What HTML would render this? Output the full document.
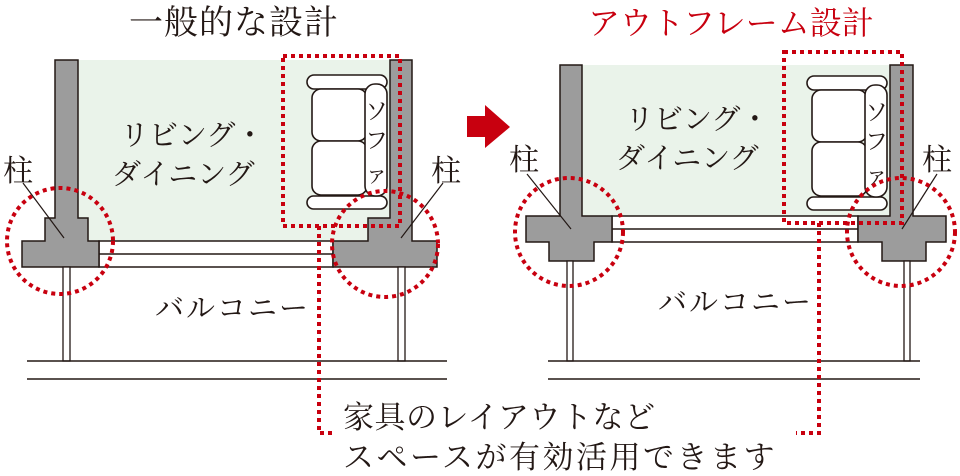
<!DOCTYPE html>
<html><head><meta charset="utf-8"><style>
html,body{margin:0;padding:0;background:#fff;}
svg{display:block;}
text{font-family:"Liberation Serif","Noto Serif CJK SC",serif;fill:#231815;}
</style></head><body>
<svg width="960" height="476" viewBox="0 0 960 476" xmlns="http://www.w3.org/2000/svg">
<defs>
<g id="sofa">
  <rect x="0" y="0" width="80" height="14" rx="7" fill="#fff" stroke="#231815" stroke-width="1.6"/>
  <rect x="0" y="121" width="80" height="13" rx="6.5" fill="#fff" stroke="#231815" stroke-width="1.6"/>
  <rect x="5" y="14" width="55" height="52" rx="9" fill="#fff" stroke="#231815" stroke-width="1.6"/>
  <rect x="5" y="66" width="55" height="54" rx="9" fill="#fff" stroke="#231815" stroke-width="1.6"/>
  <rect x="58" y="9" width="22" height="112" rx="10" fill="#fff" stroke="#231815" stroke-width="1.6"/>
</g>
</defs>

<!-- titles -->
<text x="129" y="34" font-size="34" letter-spacing="1">一般的な設計</text>
<text x="588" y="34" font-size="32" style="fill:#c8000f">アウトフレーム設計</text>

<!-- ===== LEFT DIAGRAM ===== -->
<rect x="78" y="60" width="312" height="181" fill="#eaf3ea"/>
<rect x="99" y="241" width="234" height="26" fill="#fff" stroke="#231815" stroke-width="1.5"/>
<line x1="99" y1="254" x2="333" y2="254" stroke="#231815" stroke-width="1.5"/>
<polygon points="55,60 78,60 78,218 88,218 88,241 99,241 99,267 22,267 22,241 45,241 45,218 55,218" fill="#9c9c9c" stroke="#231815" stroke-width="1.5"/>
<polygon points="390,60 412,60 412,241 437,241 437,267 333,267 333,241 368,241 368,218 390,218" fill="#9c9c9c" stroke="#231815" stroke-width="1.5"/>
<rect x="63" y="267" width="7" height="94" fill="#fff" stroke="#231815" stroke-width="1.3"/>
<rect x="398" y="267" width="7" height="94" fill="#fff" stroke="#231815" stroke-width="1.3"/>
<line x1="27" y1="361" x2="447" y2="361" stroke="#231815" stroke-width="1.5"/>
<line x1="27" y1="379" x2="447" y2="379" stroke="#231815" stroke-width="1.5"/>
<use href="#sofa" x="307" y="75"/>
<text x="120" y="145" font-size="29">リビング・</text>
<text x="112" y="184" font-size="29">ダイニング</text>
<text x="155" y="318" font-size="29" letter-spacing="2">バルコニー</text>
<text font-size="23" x="365" y="119">ソ</text>
<text font-size="23" x="365" y="148">フ</text>
<text font-size="23" x="365" y="182">ァ</text>
<text x="3" y="181" font-size="30">柱</text>
<text x="431" y="181" font-size="30">柱</text>
<line x1="23" y1="183" x2="64" y2="238" stroke="#231815" stroke-width="1.2"/>
<line x1="443" y1="183" x2="401" y2="238" stroke="#231815" stroke-width="1.2"/>
<g fill="none" stroke="#c8000f" stroke-width="4" stroke-dasharray="4 4">
  <rect x="283" y="56" width="117" height="170"/>
  <circle cx="60" cy="241" r="53"/>
  <circle cx="385" cy="244" r="53"/>
  <polyline points="319,226 319,433 336,433"/>
</g>

<polygon points="467,116 485,116 485,105 510,127 485,148 485,137 467,137" fill="#c8000f"/>

<!-- ===== RIGHT DIAGRAM ===== -->
<rect x="582" y="65" width="308" height="151" fill="#eaf3ea"/>
<rect x="612" y="216" width="246" height="26" fill="#fff" stroke="#231815" stroke-width="1.5"/>
<line x1="612" y1="229" x2="858" y2="229" stroke="#231815" stroke-width="1.5"/>
<polygon points="560,65 582,65 582,216 612,216 612,242 594,242 594,261 549,261 549,242 526,242 526,216 560,216" fill="#9c9c9c" stroke="#231815" stroke-width="1.5"/>
<polygon points="890,65 913,65 913,216 946,216 946,242 926,242 926,261 882,261 882,242 858,242 858,216 890,216" fill="#9c9c9c" stroke="#231815" stroke-width="1.5"/>
<rect x="567" y="261" width="6" height="100" fill="#fff" stroke="#231815" stroke-width="1.3"/>
<rect x="904" y="261" width="6" height="100" fill="#fff" stroke="#231815" stroke-width="1.3"/>
<line x1="548" y1="361" x2="920" y2="361" stroke="#231815" stroke-width="1.5"/>
<line x1="548" y1="379" x2="920" y2="379" stroke="#231815" stroke-width="1.5"/>
<use href="#sofa" x="807" y="76"/>
<text x="625" y="129" font-size="29">リビング・</text>
<text x="616" y="168" font-size="29">ダイニング</text>
<text x="658" y="312" font-size="29" letter-spacing="2">バルコニー</text>
<text font-size="23" x="865" y="120">ソ</text>
<text font-size="23" x="865" y="149">フ</text>
<text font-size="23" x="865" y="183">ァ</text>
<text x="509" y="170" font-size="30">柱</text>
<text x="922" y="170" font-size="30">柱</text>
<line x1="527" y1="174" x2="571" y2="229" stroke="#231815" stroke-width="1.2"/>
<line x1="937" y1="174" x2="902" y2="229" stroke="#231815" stroke-width="1.2"/>
<g fill="none" stroke="#c8000f" stroke-width="4" stroke-dasharray="4 4">
  <rect x="784" y="52" width="118" height="171"/>
  <circle cx="569" cy="232" r="54"/>
  <circle cx="901" cy="232" r="54"/>
  <polyline points="819,223 819,433 796,433"/>
</g>

<text x="343" y="428" font-size="31" letter-spacing="0.5">家具のレイアウトなど</text>
<text x="343" y="468" font-size="31" letter-spacing="2.5">スペースが有効活用できます</text>
</svg>
</body></html>
